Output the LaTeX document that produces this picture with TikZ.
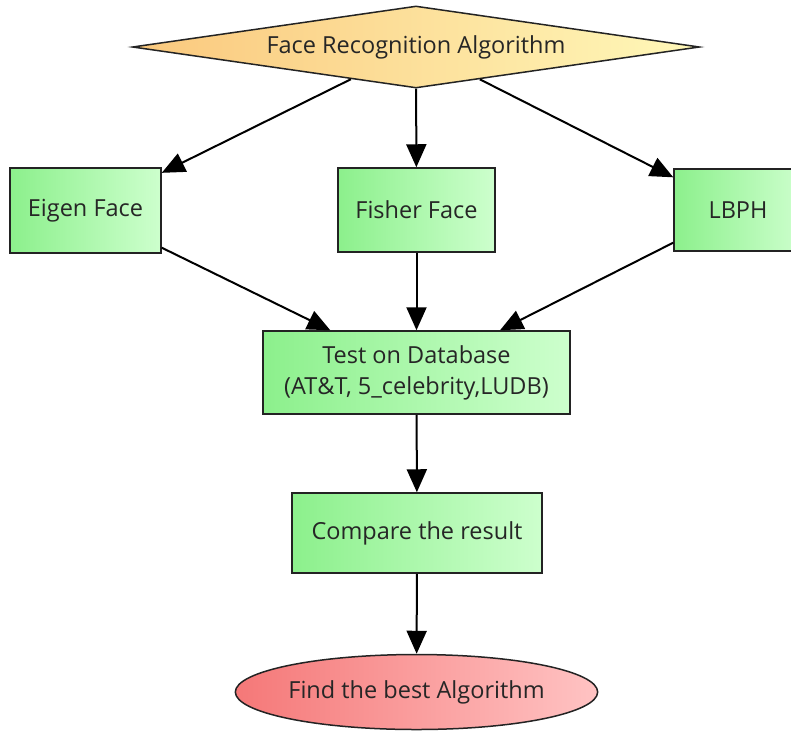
\documentclass[tikz,border=0pt]{standalone}
\usepackage{fontspec}
\setmainfont{Open Sans}
\usepackage{tikz}
\usetikzlibrary{shapes.geometric,arrows.meta,positioning}

\definecolor{boxleft}{RGB}{140,240,140}
\definecolor{boxright}{RGB}{205,255,205}
\definecolor{decleft}{RGB}{250,200,125}
\definecolor{decright}{RGB}{255,248,185}
\definecolor{endleft}{RGB}{245,120,120}
\definecolor{endright}{RGB}{255,195,195}
\definecolor{edgegray}{RGB}{35,35,35}

\begin{document}
\begin{tikzpicture}[x=1pt, y=-1pt, font=\fontsize{23.5}{31}\selectfont,
    block/.style={rectangle, draw=edgegray, line width=1.5pt, left color=boxleft, right color=boxright, text=black!85, align=center, inner sep=0pt},
    decision/.style={diamond, draw=edgegray, line width=1.5pt, left color=decleft, right color=decright, text=black!85, aspect=6.9, inner sep=0pt, minimum width=567pt, minimum height=82pt},
    terminal/.style={ellipse, draw=edgegray, line width=1.5pt, left color=endleft, right color=endright, text=black!85, inner sep=0pt, minimum width=350pt, minimum height=75pt},
    arrow/.style={-{Triangle[length=23pt, width=20pt]}, line width=2pt}]

    \useasboundingbox (0,0) rectangle (791,734);
    \clip (0,0) rectangle (791,734);

    \node [decision] (algo) at (416,47) {Face Recognition Algorithm};
    \node [block, minimum width=151pt, minimum height=85pt] (eigen) at (85.5,210.5) {Eigen Face};
    \node [block, minimum width=157pt, minimum height=84pt] (fisher) at (416.5,210) {Fisher Face};
    \node [block, minimum width=128pt, minimum height=82pt] (lbph) at (738,210) {LBPH};
    \node [block, minimum width=307pt, minimum height=83pt] (test) at (416.5,372.5) {Test on Database\\(AT\&T, 5\_celebrity,LUDB)};
    \node [block, minimum width=250pt, minimum height=80pt] (compare) at (417,533) {Compare the result};
    \node [terminal] (best) at (416.5,692) {Find the best Algorithm};

    \draw [arrow] (algo) -- (eigen);
    \draw [arrow] (algo) -- (fisher);
    \draw [arrow] (algo) -- (lbph);
    \draw [arrow] (eigen) -- (test);
    \draw [arrow] (fisher) -- (test);
    \draw [arrow] (lbph) -- (test);
    \draw [arrow] (test) -- (compare);
    \draw [arrow] (compare) -- (best);
\end{tikzpicture}
\end{document}
